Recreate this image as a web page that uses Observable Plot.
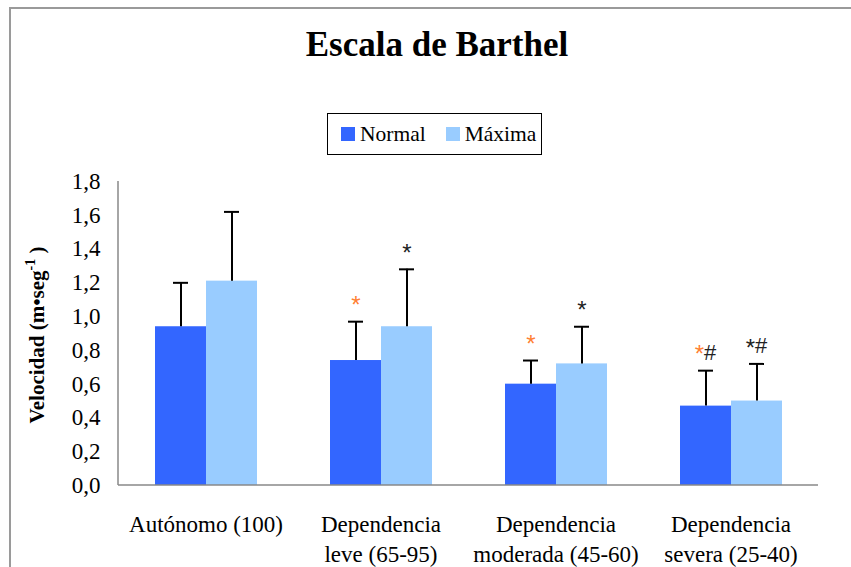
<!DOCTYPE html>
<html>
<head>
<meta charset="utf-8">
<script src="https://cdn.jsdelivr.net/npm/d3@7"></script>
<script src="https://cdn.jsdelivr.net/npm/@observablehq/plot@0.6"></script>
<style>
  html, body { margin: 0; padding: 0; background: #fff; }
  #wrap { position: relative; width: 851px; height: 567px; overflow: hidden; font-family: "Liberation Serif", "Times New Roman", serif; }
  #border { position: absolute; left: 9px; top: 7px; width: 900px; height: 700px; border-left: 2px solid #9a9a9a; border-top: 2px solid #9a9a9a; box-sizing: border-box; }
  #title { position: absolute; left: 0; top: 25px; width: 874px; text-align: center; font-weight: bold; font-size: 35px; }
  #legend { position: absolute; left: 327px; top: 113px; width: 215px; height: 42px; border: 1.5px solid #000; box-sizing: border-box; display: flex; align-items: center; font-size: 21.5px; }
  .item { display: flex; align-items: center; }
  .sw { width: 14px; height: 14px; display: inline-block; margin-right: 5px; }
  #chart { position: absolute; left: 0; top: 0; }
</style>
</head>
<body>
<div id="wrap">
  <div id="border"></div>
  <div id="title">Escala de Barthel</div>
  <div id="legend"></div>
  <div id="chart"></div>
</div>
<script>
const groups = ["Autónomo (100)", "Dependencia\nleve (65-95)", "Dependencia\nmoderada (45-60)", "Dependencia\nsevera (25-40)"];
const series = ["Normal", "Máxima"];
const colors = ["#3366ff", "#99ccff"];
const normalMean = [0.94, 0.74, 0.60, 0.47];
const normalUpper = [1.20, 0.97, 0.74, 0.68];
const maximaMean = [1.21, 0.94, 0.72, 0.50];
const maximaUpper = [1.62, 1.28, 0.94, 0.72];
const normalStar = ["", "*", "*", "*"];
const normalHash = ["", "", "", "#"];
const maximaStar = ["", "*", "*", "*"];
const maximaHash = ["", "", "", "#"];
const yTicks = [0, 0.2, 0.4, 0.6, 0.8, 1.0, 1.2, 1.4, 1.6, 1.8];

const data = [];
groups.forEach((g, i) => {
  data.push({group: g, series: "Normal", mean: normalMean[i], upper: normalUpper[i], star: normalStar[i], hash: normalHash[i], starColor: "#ff7f33"});
  data.push({group: g, series: "Máxima", mean: maximaMean[i], upper: maximaUpper[i], star: maximaStar[i], hash: maximaHash[i], starColor: "#222"});
});

const fmt = d => d.toFixed(1).replace(".", ",");

// legend
const legend = document.getElementById("legend");
series.forEach((s, i) => {
  const it = document.createElement("div");
  it.className = "item";
  it.style.marginLeft = i === 0 ? "13px" : "20px";
  it.innerHTML = `<span class="sw" style="background:${colors[i]}"></span><span>${s}</span>`;
  legend.appendChild(it);
});

const plot = Plot.plot({
  width: 851,
  height: 567,
  marginLeft: 118,
  marginRight: 33,
  marginTop: 181,
  marginBottom: 82,
  style: {fontFamily: "Liberation Serif", background: "transparent", color: "#000"},
  fx: {domain: groups, padding: 0, label: null},
  x: {domain: series, paddingInner: 0, paddingOuter: 0.71, axis: null},
  y: {domain: [0, 1.8], label: null},
  color: {domain: series, range: colors},
  marks: [
    Plot.axisY({ticks: yTicks, tickSize: 0, tickPadding: 18, fontSize: 23, label: null, tickFormat: fmt}),
    Plot.axisFx({anchor: "bottom", tickSize: 0, tickPadding: 25, fontSize: 23, lineHeight: 1.3, label: null}),
    Plot.barY(data, {fx: "group", x: "series", y: "mean", fill: "series"}),
    Plot.ruleX(data, {fx: "group", x: "series", y1: "mean", y2: "upper", stroke: "#000", strokeWidth: 2}),
    Plot.tickY(data, {fx: "group", x: "series", y: "upper", stroke: "#000", strokeWidth: 2, insetLeft: 18, insetRight: 18}),
    Plot.text(data.filter(d => d.star && !d.hash), {fx: "group", x: "series", y: "upper", text: "star", fill: "starColor", fontFamily: "Liberation Sans", fontSize: 24, dy: -16}),
    Plot.text(data.filter(d => d.star && d.hash), {fx: "group", x: "series", y: "upper", text: "star", fill: "starColor", textAnchor: "end", dx: -2, fontFamily: "Liberation Sans", fontSize: 24, dy: -16}),
    Plot.text(data.filter(d => d.hash), {fx: "group", x: "series", y: "upper", text: "hash", fill: "#222", textAnchor: "start", dx: -2, fontFamily: "Liberation Sans", fontSize: 22, dy: -18})
  ]
});

// axis lines drawn from the plot's own scales
const svg = d3.select(plot);
const ys = plot.scale("y");
const fxs = plot.scale("fx");
const y0 = ys.apply(0), y1 = ys.apply(1.8);
const xl = fxs.range[0], xr = fxs.range[1];
svg.append("line").attr("x1", xl).attr("x2", xl).attr("y1", y1).attr("y2", y0).attr("stroke", "#888").attr("stroke-width", 1.5);
svg.append("line").attr("x1", xl).attr("x2", xr).attr("y1", y0).attr("y2", y0).attr("stroke", "#888").attr("stroke-width", 1.5);

// y axis title with superscript
const lab = svg.append("text")
  .attr("transform", `translate(44,${(y0 + y1) / 2 + 2}) rotate(-90)`)
  .attr("text-anchor", "middle")
  .attr("font-family", "Liberation Serif")
  .attr("font-weight", "bold")
  .attr("font-size", 21)
  .attr("fill", "#000");
lab.append("tspan").text("Velocidad (m•seg");
lab.append("tspan").attr("dy", -9).attr("font-size", 14).text("-1");
lab.append("tspan").attr("dy", 9).text(" )");

document.getElementById("chart").appendChild(plot);
</script>
</body>
</html>
